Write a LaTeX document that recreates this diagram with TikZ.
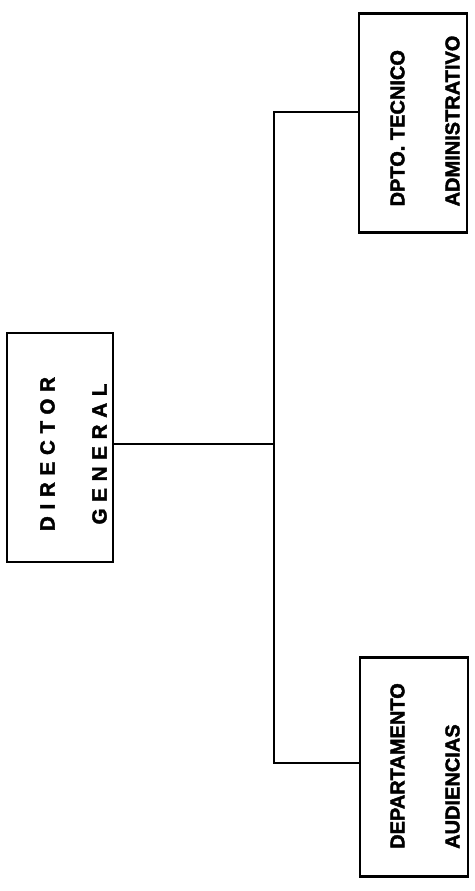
\documentclass[tikz,border=0pt]{standalone}
\usepackage{fontspec}
\setmainfont{Liberation Sans}
\usetikzlibrary{positioning,calc}
\tikzset{
  caja/.style={draw=black,line width=2.6pt,inner sep=0pt},
  cajadir/.style={caja,minimum width=106pt,minimum height=229pt},
  cajadep/.style={caja,minimum width=108pt,minimum height=219pt},
  txt/.style={rotate=90,inner sep=0pt,
              font=\fontsize{20}{55}\selectfont\bfseries\addfontfeature{FakeBold=2}},
  txtdir/.style={txt,align=center,
              font=\fontsize{20.5}{52}\selectfont\bfseries\addfontfeature{LetterSpace=33,FakeBold=2}},
  txtdep/.style={txt,align=left},
  linea/.style={line width=1.4pt},
}
\begin{document}
\begin{tikzpicture}[x=1pt,y=-1pt]
  \useasboundingbox (0,0) rectangle (474,891);
  \node[cajadir](DG) at (60,447.5) {};
  \node[cajadep](DT) at (413,123)  {};
  \node[cajadep](DA) at (414,767)  {};
  \node[txtdir](DGt) at (73.5,454) {DIRECTOR\\GENERAL};
  \node[txtdep](DTt) at (425,121)  {DPTO. TECNICO\\ADMINISTRATIVO};
  \node[txtdep](DAt) at (425,766)  {DEPARTAMENTO\\AUDIENCIAS};
  \coordinate (J)  at (274,444);
  \coordinate (JT) at (274,112);
  \coordinate (JA) at (274,763);

  \draw[linea](DG.east |- J) -- (J);
  \draw[linea](DT.west |- JT) -- (JT) -- (JA) -- (DA.west |- JA);
\end{tikzpicture}
\end{document}
